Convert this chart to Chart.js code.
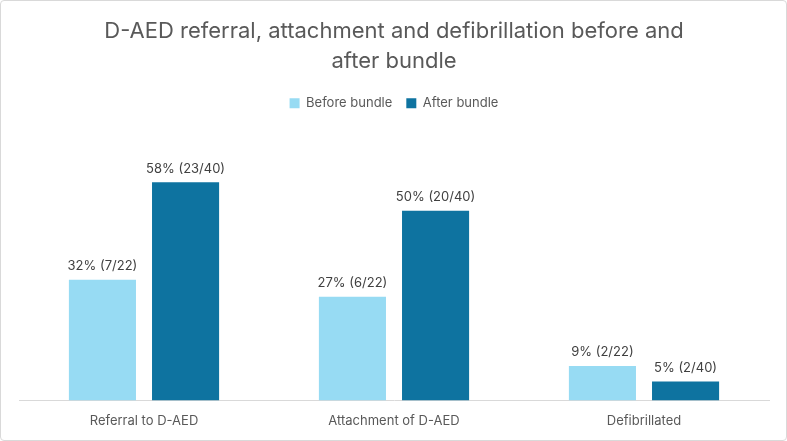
<!DOCTYPE html>
<html><head><meta charset="utf-8">
<script src="https://cdn.jsdelivr.net/npm/chart.js@4/dist/chart.umd.min.js"></script>
<style>
html,body{margin:0;padding:0;background:#fff;}
#wrap{position:absolute;left:0;top:0;width:787px;height:441px;box-sizing:border-box;border:1px solid #d9d9d9;border-radius:4px;background:#fff;}
canvas{display:block;}
</style></head>
<body><div id="wrap"><canvas id="c" width="785" height="439"></canvas></div>
<script>
const categories = ["Referral to D-AED", "Attachment of D-AED", "Defibrillated"];
const seriesNames = ["Before bundle", "After bundle"];
const beforeValues = [31.8, 27.3, 9.1];
const afterValues = [57.5, 50, 5];
const beforeLabels = ["32% (7/22)", "27% (6/22)", "9% (2/22)"];
const afterLabels = ["58% (23/40)", "50% (20/40)", "5% (2/40)"];
const colors = ["#97dbf3", "#0e73a0"];
const FONT = "Inter, 'Liberation Sans', sans-serif";

const labelPlugin = {
  id: 'barLabels',
  afterDatasetsDraw(chart) {
    const ctx = chart.ctx;
    const all = [beforeLabels, afterLabels];
    ctx.save();
    ctx.font = "13px " + FONT;
    ctx.fillStyle = "#404040";
    ctx.textAlign = "center";
    ctx.textBaseline = "bottom";
    chart.data.datasets.forEach((ds, i) => {
      chart.getDatasetMeta(i).data.forEach((bar, j) => {
        ctx.fillText(all[i][j], bar.x, bar.y - 7);
      });
    });
    ctx.restore();
  }
};

new Chart(document.getElementById('c'), {
  type: 'bar',
  data: {
    labels: categories,
    datasets: [
      {label: seriesNames[0], data: beforeValues, backgroundColor: colors[0]},
      {label: seriesNames[1], data: afterValues, backgroundColor: colors[1]}
    ]
  },
  options: {
    responsive: false,
    animation: false,
    devicePixelRatio: 1,
    layout: {padding: {left: 18, right: 17, top: 8, bottom: 6}},
    datasets: {bar: {categoryPercentage: 0.665, barPercentage: 0.807}},
    plugins: {
      title: {
        display: true,
        text: ["D-AED referral, attachment and defibrillation before and", "after bundle"],
        color: "#595959",
        font: {family: FONT, size: 22, weight: 'normal', lineHeight: 1.38},
        padding: {top: 7, bottom: 6}
      },
      legend: {
        display: true,
        labels: {
          color: "#595959",
          font: {family: FONT, size: 13},
          boxWidth: 10, boxHeight: 10,
          padding: 14
        }
      },
      tooltip: {enabled: false}
    },
    scales: {
      x: {
        grid: {display: false},
        border: {display: true, color: "#d9d9d9"},
        ticks: {color: "#595959", font: {family: FONT, size: 13}, padding: 5}
      },
      y: {
        display: false,
        min: 0,
        max: 74
      }
    }
  },
  plugins: [labelPlugin]
});
</script>
</body></html>
